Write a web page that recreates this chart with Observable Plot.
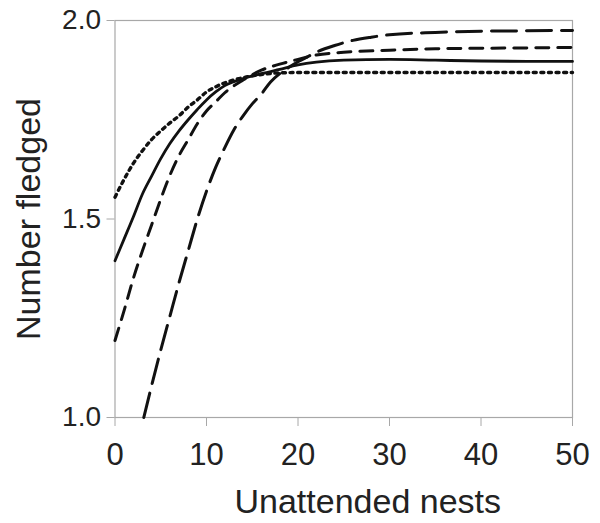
<!DOCTYPE html>
<html>
<head>
<meta charset="utf-8">
<script src="https://cdn.jsdelivr.net/npm/d3@7"></script>
<script src="https://cdn.jsdelivr.net/npm/@observablehq/plot@0.6"></script>
<style>
  html, body { margin: 0; padding: 0; background: #fff; }
</style>
</head>
<body>
<div id="chart"></div>
<script>
// Solid line
const solidX = [0,1,2,3,4,5,6,7,8,9,10,11,12,13,14,16,18,20,22,25,30,35,40,45,50];
const solidY = [1.395,1.45,1.505,1.563,1.608,1.652,1.69,1.722,1.75,1.776,1.80,1.82,1.836,1.846,1.854,1.866,1.877,1.888,1.895,1.90,1.902,1.90,1.898,1.897,1.897];
// Dotted line
const dottedX = [0,1,2,3,4,5,6,7,8,9,10,11,12,14,16,18,20,30,40,50];
const dottedY = [1.555,1.60,1.64,1.672,1.70,1.722,1.742,1.76,1.782,1.80,1.82,1.833,1.843,1.856,1.864,1.868,1.869,1.869,1.869,1.869];
// Short-dashed line
const shortX = [0,1,2,3,4,5,6,7,8,9,10,11,12,14,16,18,20,22,25,30,35,40,45,50];
const shortY = [1.194,1.27,1.35,1.42,1.485,1.55,1.61,1.66,1.70,1.74,1.772,1.795,1.818,1.85,1.875,1.89,1.902,1.913,1.92,1.925,1.929,1.93,1.931,1.932];
// Long-dashed line
const longX = [3.15,4,5,6,7,8,9,10,11,12,13,14,15,16,17,18,19,20,21,22,24,26,28,30,35,40,45,50];
const longY = [1.0,1.08,1.17,1.255,1.34,1.42,1.50,1.57,1.63,1.68,1.725,1.76,1.79,1.815,1.845,1.866,1.882,1.896,1.908,1.92,1.937,1.95,1.958,1.964,1.97,1.973,1.974,1.975];

const xTicks = [0,10,20,30,40,50];
const yTicks = [1.0,1.5,2.0];
const xTitle = "Unattended nests";
const yTitle = "Number fledged";

const toRows = (xs, ys) => xs.map((x, i) => ({x, y: ys[i]}));

const ink = "#111";

const chart = Plot.plot({
  width: 600,
  height: 523,
  marginLeft: 114.5,
  marginRight: 28,
  marginTop: 20,
  marginBottom: 106,
  style: {fontFamily: "'Liberation Sans', Arial, sans-serif", background: "#fff", color: "#222"},
  x: {domain: [0, 50]},
  y: {domain: [1, 2]},
  marks: [
    Plot.frame({stroke: "#a8a8a8", strokeWidth: 1.2}),
    Plot.axisX({ticks: xTicks, tickSize: 9, tickPadding: 16, stroke: "#a8a8a8", fill: "#222", fontSize: 31, label: null, tickFormat: d3.format("d")}),
    Plot.axisY({ticks: yTicks, tickSize: 8, tickPadding: 6, stroke: "#a8a8a8", fill: "#222", fontSize: 28, label: null, tickFormat: d3.format(".1f")}),
    Plot.line(toRows(dottedX, dottedY), {x: "x", y: "y", stroke: ink, strokeWidth: 3.4, strokeDasharray: "3,4.6", curve: "monotone-x"}),
    Plot.line(toRows(solidX, solidY), {x: "x", y: "y", stroke: ink, strokeWidth: 2.8, curve: "monotone-x"}),
    Plot.line(toRows(shortX, shortY), {x: "x", y: "y", stroke: ink, strokeWidth: 3, strokeDasharray: "13,9", curve: "monotone-x"}),
    Plot.line(toRows(longX, longY), {x: "x", y: "y", stroke: ink, strokeWidth: 3, strokeDasharray: "25,10", curve: "monotone-x"}),
    Plot.text([xTitle], {frameAnchor: "bottom", dx: 24, dy: 95, fontSize: 34, fill: "#222"}),
    Plot.text([yTitle], {frameAnchor: "left", textAnchor: "middle", rotate: -90, dx: -86, fontSize: 34, fill: "#222"})
  ]
});
document.getElementById("chart").appendChild(chart);
</script>
</body>
</html>
